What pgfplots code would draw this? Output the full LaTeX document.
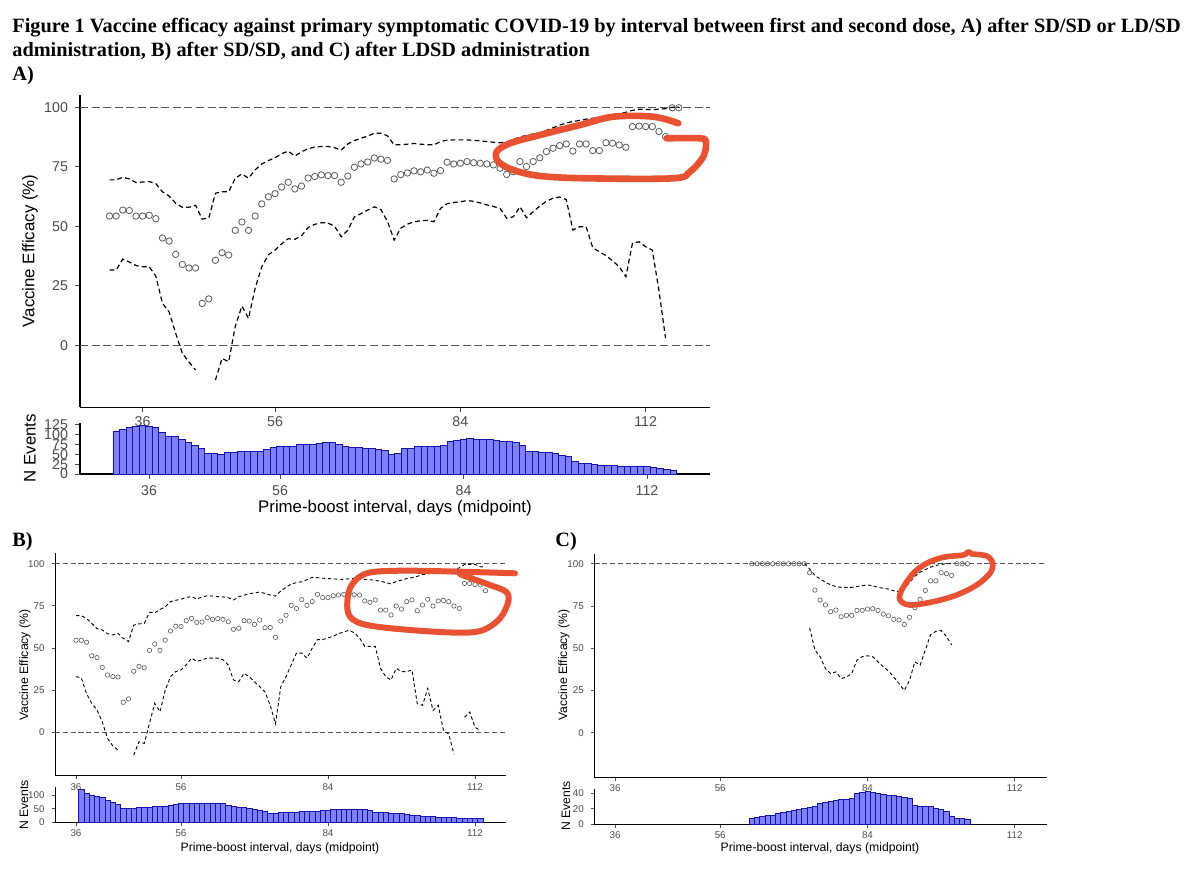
\documentclass[border=0pt]{standalone}
\usepackage{fontspec}
\setmainfont{Liberation Serif}
\setsansfont{Liberation Sans}
\usepackage{pgfplots}
\pgfplotsset{compat=1.18}
\usepackage{pgfplotstable}
\definecolor{ggtick}{HTML}{4D4D4D}
\definecolor{annot}{RGB}{232,82,50}
\definecolor{barfill}{RGB}{128,128,250}
\definecolor{barline}{RGB}{20,20,170}
\definecolor{ptcol}{HTML}{5A5A5A}
\definecolor{refcol}{HTML}{555555}

\pgfplotstableread{
day ve lo hi
31 54.3 31.6 69.5
32 54.3 31.6 69.5
33 56.8 36.2 70.6
34 56.6 35.0 69.9
35 54.3 33.5 68.4
36 54.3 33.0 68.6
37 54.6 33.0 68.8
38 53.2 29.0 67.9
39 45.1 17.6 64.5
40 43.8 14.0 62.7
41 38.2 5.0 59.7
42 34.0 -3.4 58.0
43 32.5 -7.0 58.0
44 32.5 -10.4 58.8
45 17.6 nan 53.0
46 19.5 nan 53.5
47 35.7 -14.6 63.9
48 38.9 -5.5 64.5
49 37.9 -6.9 64.5
50 48.3 8.0 70.2
51 51.8 16.5 72.0
52 48.3 11.3 70.2
53 54.3 24.0 73.7
54 59.4 33.0 76.2
55 62.4 38.0 77.6
56 63.7 40.0 78.8
57 66.5 42.6 80.5
58 68.5 44.8 81.6
59 65.7 44.5 79.5
60 66.9 46.0 81.3
61 70.3 49.5 82.6
62 70.9 50.8 83.3
63 71.6 51.5 83.5
64 71.3 51.4 83.5
65 71.3 50.0 83.0
66 68.5 45.6 82.0
67 71.1 48.4 84.6
68 74.8 54.0 86.0
69 76.2 55.3 87.0
70 77.0 56.8 87.9
71 78.7 58.2 89.1
72 78.2 57.0 89.1
73 77.7 52.0 88.0
74 69.9 44.2 84.2
75 71.7 49.2 84.3
76 72.4 50.9 84.5
77 73.3 51.9 84.8
78 72.9 52.3 84.5
79 73.6 52.5 84.3
80 72.3 51.9 84.2
81 73.4 57.5 85.6
82 76.9 59.5 86.2
83 76.2 60.0 86.3
84 76.5 60.3 86.3
85 77.2 60.8 86.3
86 76.7 60.5 86.1
87 76.5 59.8 85.9
88 76.2 59.0 85.6
89 75.8 58.3 85.3
90 74.4 57.5 85.1
91 71.8 53.4 85.5
92 72.9 54.0 86.5
93 77.2 58.2 87.5
94 75.1 53.6 88.2
95 77.2 56.1 88.8
96 78.8 58.5 89.3
97 81.4 60.5 90.3
98 82.8 61.8 91.4
99 83.9 62.3 92.5
100 84.6 61.2 93.4
101 81.6 48.4 94.0
102 84.6 49.8 94.5
103 84.6 49.8 95.0
104 81.8 41.0 95.4
105 81.8 39.3 95.8
106 85.1 37.7 96.1
107 84.9 35.5 96.7
108 84.2 33.0 97.3
109 83.2 28.8 97.9
110 91.9 42.9 98.7
111 92.1 43.5 99.2
112 91.9 41.4 99.1
113 91.9 40.0 99.0
114 89.8 23.0 99.2
115 87.7 3.0 99.4
116 99.8 nan 100
117 99.8 nan 100
}\tabA

\pgfplotstableread{
day n
31 108.9
32 113
33 117
34 120
35 122
36 121.5
37 117
38 106
39 96
40 94.5
41 87.8
42 79
43 73.4
44 65
45 51.5
46 51
47 50
48 55.7
49 55.7
50 56
51 57
52 57
53 57.5
54 62.4
55 66.6
56 71
57 71
58 71
59 75
60 75
61 75.9
62 77.6
63 79
64 79
65 75
66 71
67 67.5
68 67.5
69 65
70 64
71 61.6
72 60
73 49
74 51.5
75 64
76 65
77 69.2
78 69.2
79 69.2
80 70.9
81 73.4
82 81.9
83 85.2
84 86.9
85 89.4
86 87.8
87 86.9
88 86.9
89 86
90 83.5
91 81.9
92 79.3
93 71.7
94 56.5
95 56.5
96 54.9
97 54.9
98 52.3
99 48.1
100 43.9
101 31.2
102 27.8
103 27
104 24.5
105 22.8
106 21.1
107 21.1
108 20.3
109 20.3
110 20.3
111 20.3
112 19.4
113 16.9
114 14.3
115 12
116 9
}\histA

\pgfplotstableread{
day ve lo hi
36 54.6 33 69.2
37 54.6 32.4 69.2
38 53.4 23 67.5
39 45.4 17.2 64.6
40 44.3 13.2 61.5
41 38.5 6.3 60.7
42 34.0 -3.6 58.5
43 33.0 -8 57.7
44 32.8 -10.5 58.7
45 17.8 nan 55.7
46 19.8 nan 53.8
47 36.2 -13.5 63.6
48 39.1 -5.6 64.3
49 38.3 -6.6 64.6
50 48.6 5.3 71.2
51 52.4 17.2 70.9
52 48.6 12.2 72.8
53 54.7 25.1 74.5
54 60.1 33 77.5
55 62.9 36 78.3
56 62.7 37 78.9
57 66.2 40 80
58 67.6 44 80.5
59 65.2 42 79.1
60 65.4 43 80.2
61 68.0 44 81
62 67.0 44 80.8
63 67.4 44 80.5
64 67.0 43 80.3
65 65.6 40 79.9
66 61.1 31 78.5
67 61.7 30 80.4
68 66.2 35 81.3
69 66.0 33 82.2
70 64.0 30 82.7
71 66.6 27 83.2
72 62.0 24 82.4
73 62.2 16 81.4
74 56.3 5 80.8
75 66.0 27 83.8
76 69.4 33 86
77 75.3 40 88
78 73.5 47 88.8
79 78.7 47 89.3
80 75.3 44 90.5
81 77.5 50 91.9
82 81.8 55 91.7
83 79.9 55 91.4
84 79.9 56 91.2
85 81.0 57 91.0
86 81.4 58.5 90.8
87 81.8 59.5 90.7
88 81.8 60.5 91.1
89 81.6 59 91.3
90 81.4 56 91.1
91 77.9 51 90.7
92 77.1 51 90.5
93 78.5 51 90.1
94 72.5 38 89.6
95 72.5 33 88.8
96 69.6 31 88
97 74.9 38 89.5
98 73.1 36 90.3
99 77.5 36 91.2
100 78.5 37 91.7
101 72.1 17 92.5
102 75.5 16 93.5
103 78.9 26 94
104 74.9 13 94.3
105 77.9 16 94.6
106 78.2 1 94.9
107 77.5 -1 95.8
108 74.9 -13 96.8
109 73.5 nan 97.5
110 88.3 9 99.6
111 88.3 12 99.6
112 87.7 3 99.6
113 87.4 1 98.2
114 84.0 nan 98
}\tabB

\pgfplotstableread{
day n
37 120.7
38 106
39 97.6
40 95
41 90
42 81.7
43 73
44 67
45 51
46 51
47 51
48 55
49 55
50 56
51 57
52 57
53 60
54 63
55 66
56 68
57 68
58 68
59 71
60 71
61 71
62 71
63 71
64 68
65 63
66 60
67 56
68 56
69 51
70 47.6
71 45
72 39
73 34
74 34
75 36
76 38
77 38
78 38
79 39
80 39
81 40
82 41
83 43
84 45
85 47
86 48
87 49
88 49
89 49
90 48
91 46
92 42
93 36
94 35
95 35
96 34
97 33
98 32
99 30
100 27
101 24
102 22
103 22
104 20
105 18
106 18
107 17
108 17
109 16
110 16
111 16
112 15
113 15
}\histB

\pgfplotstableread{
day ve lo hi
62 100 nan nan
63 100 nan nan
64 100 nan nan
65 100 nan nan
66 100 nan nan
67 100 nan nan
68 100 nan nan
69 100 nan nan
70 100 nan nan
71 100 nan nan
72 100 nan 100
73 94.7 62 97
74 84.4 49 93
75 78.5 45 91
76 75.6 38 89
77 71.6 35 87.5
78 72.6 36 86.5
79 68.6 32 86
80 69.5 33 86
81 69.5 35 86
82 72.4 43 86.5
83 72.4 45 87
84 73.2 45.5 87.4
85 73.4 45 87
86 72.4 42 86
87 70.2 39 85.5
88 69.2 36.5 85
89 67.1 33 84
90 66.7 29 83.5
91 64.1 25 85
92 68.3 31 89
93 74.0 42 92.5
94 78.9 40 95
95 84.2 49 96.5
96 89.9 58 98
97 89.9 60 99
98 94.7 60.5 99.6
99 94.1 57 100
100 93.1 52 100
101 100 nan nan
102 100 nan nan
103 100 nan nan
}\tabC

\pgfplotstableread{
day n
62 7.7
63 9
64 10.3
65 11
66 11.5
67 13.8
68 15.5
69 16.8
70 17.5
71 19.5
72 20.6
73 22
74 23
75 27
76 29
77 30
78 31
79 32
80 32.5
81 33
82 40
83 41
84 42
85 41
86 39.5
87 38.5
88 37.5
89 37
90 36
91 35
92 34
93 25
94 23
95 23
96 23
97 20
98 19
99 17
100 10
101 8
102 8
103 7
}\histC

\pgfplotsset{
  ggbase/.style={
    scale only axis, anchor=south west,
    axis x line*=bottom, axis y line*=left,
    tick align=outside,
    /pgf/number format/assume math mode=true,
    unbounded coords=jump,
  },
  ggA/.style={ggbase,
    axis line style={line width=0.65pt, black},
    major tick length=2.5pt,
    tick style={line width=0.5pt, color=ggtick},
    ticklabel style={font=\fontsize{7.1}{7.5}\selectfont\sffamily, text=ggtick},
  },
  ggB/.style={ggbase,
    axis line style={line width=0.5pt, black},
    major tick length=1.7pt,
    tick style={line width=0.4pt, color=ggtick},
    ticklabel style={font=\fontsize{4.9}{5.5}\selectfont\sffamily, text=ggtick},
    xticklabel style={yshift=1.4pt},
  },
}

\begin{document}
\begin{tikzpicture}[x=0.5pt,y=-0.5pt]
\fill[white] (0,0) rectangle (1196,872);
\useasboundingbox (0,0) rectangle (1196,872);

% titles
\begin{scope}[every node/.style={anchor=base west, inner sep=0pt, font=\fontsize{10.15}{11}\selectfont\bfseries}]
\node at (12,33) {Figure 1 Vaccine efficacy against primary symptomatic COVID-19 by interval between first and second dose, A) after SD/SD or LD/SD};
\node at (12,57) {administration, B) after SD/SD, and C) after LDSD administration};
\node at (12,81) {A)};
\node at (12,546) {B)};
\node at (555,546) {C)};
\end{scope}

% ===== Panel A main
\begin{axis}[ggA, at={(40pt,-203.65pt)}, width=315pt, height=156.2pt,
  xmin=26.54, xmax=121.71, ymin=-26.05, ymax=105.2,
  xtick={36,56,84,112}, ytick={0,25,50,75,100},
  xticklabel style={yshift=1.3pt}]
\addplot[refcol, line width=0.65pt, dash pattern=on 4pt off 1.8pt] coordinates {(26.54,100) (121.71,100)};
\addplot[refcol, line width=0.65pt, dash pattern=on 4pt off 1.8pt] coordinates {(26.54,0) (121.71,0)};
\addplot[black, line width=0.6pt, dash pattern=on 2.4pt off 1.6pt] table[x=day,y=hi]{\tabA};
\addplot[black, line width=0.6pt, dash pattern=on 2.4pt off 1.6pt] table[x=day,y=lo]{\tabA};
\addplot[only marks, mark=o, mark size=1.6pt, mark options={draw=ptcol, line width=0.4pt}] table[x=day,y=ve]{\tabA};
\end{axis}

% ===== Panel A histogram
\begin{axis}[ggA, at={(40pt,-237pt)}, width=315pt, height=25.28pt,
  xmin=25.47, xmax=121.61, ymin=0, ymax=128,
  xtick={36,56,84,112}, ytick={0,25,50,75,100,125},
  xticklabel style={yshift=0.4pt},
  ybar, bar width=1]
\addplot[fill=barfill, draw=barline, line width=0.45pt] table[x=day,y=n]{\histA};
\end{axis}

% ===== Panel B main
\begin{axis}[ggB, at={(27.5pt,-387.85pt)}, width=225.35pt, height=111.2pt,
  xmin=32, xmax=117.85, ymin=-25.74, ymax=106.17,
  xtick={36,56,84,112}, ytick={0,25,50,75,100}]
\addplot[refcol, line width=0.45pt, dash pattern=on 2.6pt off 1.3pt] coordinates {(32,100) (117.85,100)};
\addplot[refcol, line width=0.45pt, dash pattern=on 2.6pt off 1.3pt] coordinates {(32,0) (117.85,0)};
\addplot[black, line width=0.45pt, dash pattern=on 1.7pt off 1.3pt] table[x=day,y=hi]{\tabB};
\addplot[black, line width=0.45pt, dash pattern=on 1.7pt off 1.3pt] table[x=day,y=lo]{\tabB};
\addplot[only marks, mark=o, mark size=1.1pt, mark options={draw=ptcol, line width=0.3pt}] table[x=day,y=ve]{\tabB};
\end{axis}

% ===== Panel B histogram
\begin{axis}[ggB, at={(27.5pt,-411.15pt)}, width=225.35pt, height=17.47pt,
  xmin=32, xmax=117.85, ymin=0, ymax=128,
  xtick={36,56,84,112}, ytick={0,50,100},
  ybar, bar width=1]
\addplot[fill=barfill, draw=barline, line width=0.35pt] table[x=day,y=n]{\histB};
\end{axis}

% ===== Panel C main
\begin{axis}[ggB, at={(297.15pt,-388.65pt)}, width=226.2pt, height=111.6pt,
  xmin=32.06, xmax=118.07, ymin=-26.4, ymax=105.7,
  xtick={36,56,84,112}, ytick={0,25,50,75,100}]
\addplot[refcol, line width=0.45pt, dash pattern=on 2.6pt off 1.3pt] coordinates {(32.06,100) (118.07,100)};
\addplot[black, line width=0.45pt, dash pattern=on 1.7pt off 1.3pt] table[x=day,y=hi]{\tabC};
\addplot[black, line width=0.45pt, dash pattern=on 1.7pt off 1.3pt] table[x=day,y=lo]{\tabC};
\addplot[only marks, mark=o, mark size=1.1pt, mark options={draw=ptcol, line width=0.3pt}] table[x=day,y=ve]{\tabC};
\end{axis}

% ===== Panel C histogram
\begin{axis}[ggB, at={(297.15pt,-412.15pt)}, width=226.2pt, height=17.8pt,
  xmin=32.06, xmax=118.07, ymin=0, ymax=46,
  xtick={36,56,84,112}, ytick={0,20,40},
  ybar, bar width=1]
\addplot[fill=barfill, draw=barline, line width=0.35pt] table[x=day,y=n]{\histC};
\end{axis}

% axis titles
\begin{scope}[every node/.style={inner sep=0pt}]
\node[rotate=90, font=\fontsize{8.4}{9}\selectfont\sffamily] at (30,251) {Vaccine Efficacy (\%)};
\node[rotate=90, font=\fontsize{8.4}{9}\selectfont\sffamily] at (30,448) {N Events};
\node[font=\fontsize{8.4}{9}\selectfont\sffamily] at (395,508) {Prime-boost interval, days (midpoint)};
\node[rotate=90, font=\fontsize{6.1}{7}\selectfont\sffamily] at (25,665) {Vaccine Efficacy (\%)};
\node[rotate=90, font=\fontsize{6.1}{7}\selectfont\sffamily] at (24,805) {N Events};
\node[font=\fontsize{6.1}{7}\selectfont\sffamily] at (280,848) {Prime-boost interval, days (midpoint)};
\node[rotate=90, font=\fontsize{6.1}{7}\selectfont\sffamily] at (564,665) {Vaccine Efficacy (\%)};
\node[rotate=90, font=\fontsize{6.1}{7}\selectfont\sffamily] at (566,806) {N Events};
\node[font=\fontsize{6.1}{7}\selectfont\sffamily] at (820,848) {Prime-boost interval, days (midpoint)};
\end{scope}

% hand-drawn annotations
\draw[annot, line width=3.3pt, line cap=round, line join=round] plot[smooth, tension=0.55] coordinates {
 (678.3,123.3) (653.3,116.7) (613.3,116.7) (580,125) (540,135) (510,143.3) (496.7,151.7) (498.3,161.7)
 (513.3,170) (540,176) (586.7,178.3) (673.3,178.3) (690,171.7) (703.3,156.7) (706,141.7) (700,138.3) (666.7,138.3)};
\draw[annot, line width=3pt, line cap=round, line join=round] plot[smooth, tension=0.55] coordinates {
 (515,573.3) (460,571.7) (400,570.7) (366.7,573.3) (351.7,585) (347.3,601.7) (350,616.7) (366.7,625)
 (410,630) (460,632.7) (483.3,630) (500,618.3) (508.3,601.7) (506,591.7) (490,585) (466.7,576.7) (460,574)};
\draw[annot, line width=2.8pt, line cap=round, line join=round] plot[smooth, tension=0.55] coordinates {
 (971.7,554) (986.7,556) (992.7,563.3) (990,573.3) (976.7,585) (956.7,595) (933.3,601.7) (910,605)
 (900,600) (901.7,590) (913.3,573.3) (926.7,563.3) (943.3,557.3) (963.3,555) (968.3,551.7) (971.7,554)};
\end{tikzpicture}
\end{document}
